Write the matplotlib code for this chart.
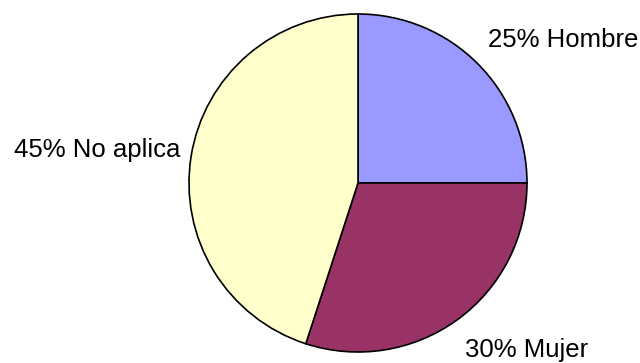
import matplotlib
matplotlib.use("Agg")
import matplotlib.pyplot as plt

labels = ["Hombre", "Mujer", "No aplica"]
percents = [25, 30, 45]
colors = ["#9999FF", "#993366", "#FFFFCC"]

# label anchor positions (pie radius = 1), horizontal alignment
label_pos = [(0.769, 0.805, "left"), (0.633, -1.030, "left"), (-1.053, 0.154, "right")]

plt.rcParams['font.family'] = ['Liberation Sans', 'DejaVu Sans']

fig = plt.figure(figsize=(6.4, 3.63), dpi=100)
ax = fig.add_axes([189 / 640, 11 / 363, 338 / 640, 338 / 363])

ax.pie(percents, colors=colors, startangle=90, counterclock=False,
       wedgeprops=dict(edgecolor="black", linewidth=1.2))
ax.set_xlim(-1, 1)
ax.set_ylim(-1, 1)

for lab, p, (x, y, ha) in zip(labels, percents, label_pos):
    ax.text(x, y, f"{p}% {lab}", ha=ha, va="baseline", fontsize=18.5, color="black")

fig.savefig("out.png", dpi=100)
